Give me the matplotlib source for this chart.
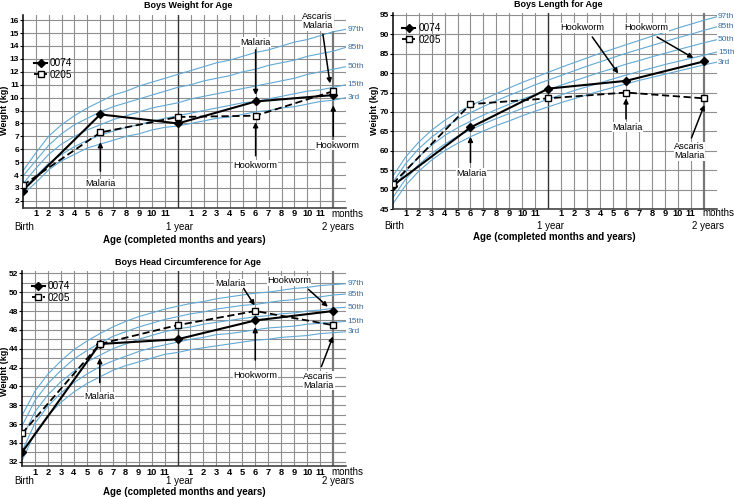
import numpy as np
import matplotlib
matplotlib.use("Agg")
import matplotlib.pyplot as plt

plt.rcParams['font.family'] = ['Liberation Sans', 'DejaVu Sans']

# ages (months) of the visits
visit_months = [0, 6, 12, 18, 24]

# child measurements
weight_0074 = [2.8, 8.7, 8.0, 9.7, 10.2]
weight_0205 = [3.2, 7.3, 8.5, 8.6, 10.5]
length_0074 = [51, 66, 76, 78, 83]
length_0205 = [51.5, 72, 73.5, 75, 73.5]
head_0074 = [33, 44.5, 45, 47, 48]
head_0205 = [35, 44.5, 46.5, 48, 46.5]

# reference curves, months 0..25
curve_months = list(range(26))
pct_names = ['3rd', '15th', '50th', '85th', '97th']

weight_p3 = [2.5, 3.4, 4.4, 5.1, 5.6, 6.1, 6.4, 6.7, 7.0, 7.2, 7.5, 7.7, 7.8, 8.0, 8.2, 8.4, 8.5, 8.7, 8.9, 9.0, 9.2, 9.3, 9.5, 9.7, 9.8, 10.0]
weight_p15 = [2.9, 3.9, 4.9, 5.6, 6.2, 6.7, 7.1, 7.4, 7.7, 7.9, 8.2, 8.4, 8.6, 8.8, 9.0, 9.2, 9.4, 9.6, 9.7, 9.9, 10.1, 10.3, 10.5, 10.6, 10.8, 11.0]
weight_p50 = [3.3, 4.5, 5.6, 6.4, 7.0, 7.5, 7.9, 8.3, 8.6, 8.9, 9.2, 9.4, 9.6, 9.9, 10.1, 10.3, 10.5, 10.7, 10.9, 11.1, 11.3, 11.5, 11.8, 12.0, 12.2, 12.4]
weight_p85 = [3.9, 5.1, 6.3, 7.2, 7.9, 8.4, 8.9, 9.3, 9.6, 9.9, 10.2, 10.5, 10.8, 11.0, 11.3, 11.5, 11.7, 12.0, 12.2, 12.5, 12.7, 12.9, 13.2, 13.4, 13.6, 13.9]
weight_p97 = [4.3, 5.7, 7.0, 7.9, 8.6, 9.2, 9.7, 10.2, 10.5, 10.9, 11.2, 11.5, 11.8, 12.1, 12.4, 12.7, 12.9, 13.2, 13.5, 13.7, 14.0, 14.3, 14.5, 14.8, 15.1, 15.3]

length_p3 = [46.3, 51.1, 54.7, 57.6, 60.0, 61.9, 63.6, 65.1, 66.5, 67.7, 69.0, 70.2, 71.3, 72.4, 73.4, 74.4, 75.4, 76.3, 77.2, 78.1, 78.9, 79.7, 80.5, 81.3, 82.1, 82.8]
length_p15 = [47.9, 52.7, 56.4, 59.3, 61.7, 63.7, 65.4, 66.9, 68.3, 69.6, 70.9, 72.1, 73.3, 74.4, 75.5, 76.5, 77.5, 78.5, 79.5, 80.4, 81.3, 82.2, 83.0, 83.8, 84.6, 85.4]
length_p50 = [49.9, 54.7, 58.4, 61.4, 63.9, 65.9, 67.6, 69.2, 70.6, 72.0, 73.3, 74.5, 75.7, 76.9, 78.0, 79.1, 80.2, 81.2, 82.3, 83.2, 84.2, 85.1, 86.0, 86.9, 87.8, 88.6]
length_p85 = [51.8, 56.7, 60.5, 63.5, 66.0, 68.1, 69.8, 71.4, 72.9, 74.3, 75.6, 77.0, 78.2, 79.4, 80.6, 81.8, 82.9, 84.0, 85.1, 86.1, 87.1, 88.1, 89.1, 90.0, 91.0, 91.9]
length_p97 = [53.4, 58.4, 62.2, 65.3, 67.8, 69.9, 71.6, 73.2, 74.7, 76.2, 77.6, 78.9, 80.2, 81.5, 82.7, 83.9, 85.1, 86.2, 87.3, 88.4, 89.5, 90.5, 91.6, 92.6, 93.6, 94.5]

head_p3 = [32.1, 35.1, 36.9, 38.3, 39.4, 40.3, 41.0, 41.7, 42.2, 42.6, 43.0, 43.4, 43.6, 43.9, 44.1, 44.3, 44.5, 44.7, 44.9, 45.0, 45.2, 45.3, 45.4, 45.6, 45.7, 45.8]
head_p15 = [33.1, 36.1, 37.9, 39.3, 40.4, 41.3, 42.1, 42.7, 43.2, 43.7, 44.1, 44.4, 44.7, 45.0, 45.2, 45.5, 45.6, 45.8, 46.0, 46.2, 46.3, 46.4, 46.6, 46.7, 46.8, 46.9]
head_p50 = [34.5, 37.3, 39.1, 40.5, 41.6, 42.6, 43.3, 44.0, 44.5, 45.0, 45.4, 45.8, 46.1, 46.3, 46.6, 46.8, 47.0, 47.2, 47.4, 47.5, 47.7, 47.8, 48.0, 48.1, 48.3, 48.4]
head_p85 = [35.8, 38.5, 40.3, 41.7, 42.9, 43.8, 44.6, 45.3, 45.8, 46.3, 46.7, 47.1, 47.4, 47.7, 47.9, 48.2, 48.4, 48.6, 48.7, 48.9, 49.1, 49.2, 49.4, 49.5, 49.7, 49.8]
head_p97 = [36.9, 39.5, 41.3, 42.7, 43.9, 44.8, 45.6, 46.3, 46.9, 47.4, 47.8, 48.2, 48.5, 48.8, 49.0, 49.3, 49.5, 49.7, 49.9, 50.0, 50.2, 50.4, 50.5, 50.7, 50.8, 50.9]

CURVE_COL = '#62a9d4'
LABEL_COL = '#3b6ea3'
GRID_COL = '#8f8f8f'
FS = 6.7

fig = plt.figure(figsize=(7.34, 4.97), dpi=100)


def panel(rect, title, ylim, yticks, hlines, curves, s1, s2, notes, leg_anchor,
          pad_month, pad_birth, pad_xlab, pad_title):
    ax = fig.add_axes(rect)
    ax.set_xlim(0, 25)
    ax.set_ylim(*ylim)
    for y in hlines:
        ax.axhline(y, color=GRID_COL, lw=0.8, zorder=1)
    for m in range(1, 24):
        if m == 12:
            continue
        ax.axvline(m, color=GRID_COL, lw=0.8, zorder=1)
    ax.axvline(12, color='#333333', lw=1.0, zorder=1)
    ax.axvline(24, color='#777777', lw=1.6, zorder=1)

    for c, name in zip(curves, pct_names):
        ax.plot(curve_months, c, color=CURVE_COL, lw=0.8, zorder=2)
        ax.annotate(name, xy=(25, c[-1]), xytext=(1, 0), textcoords='offset points',
                    color=LABEL_COL, fontsize=6, ha='left', va='center',
                    annotation_clip=False)

    ax.plot(visit_months, s1, color='black', lw=1.5, marker='D', ms=4.5,
            mfc='black', zorder=4, label='0074')
    ax.plot(visit_months, s2, color='black', lw=1.3, ls=(0, (4, 2)), marker='s',
            ms=4.5, mfc='white', mec='black', zorder=5, label='0205')
    ax.legend(loc='upper left', bbox_to_anchor=leg_anchor, frameon=False,
              fontsize=FS + 0.5, handlelength=1.3, handletextpad=0.3,
              labelspacing=0.15, borderpad=0, borderaxespad=0)

    for text, txy, tail, tip in notes:
        ax.text(txy[0], txy[1], text, fontsize=FS, ha='center', va='center',
                linespacing=1.0, zorder=6,
                bbox=dict(boxstyle='square,pad=0.05', fc='white', ec='none'))
        ax.annotate('', xy=tip, xytext=tail,
                    arrowprops=dict(arrowstyle='-|>', color='black', lw=1.1,
                                    mutation_scale=7, shrinkA=0, shrinkB=0),
                    zorder=6)

    for s in ['top', 'right']:
        ax.spines[s].set_visible(False)
    ax.spines['left'].set_linewidth(1.1)
    ax.spines['bottom'].set_linewidth(1.1)
    ax.spines['bottom'].set_color('#333333')
    ax.set_xticks([])
    ax.set_yticks(yticks)
    ax.set_yticklabels([str(v) for v in yticks], fontsize=6, fontweight='bold')
    ax.tick_params(axis='y', length=2, width=0.8, pad=0.6)

    trans = ax.get_xaxis_transform()
    for m in range(1, 24):
        if m == 12:
            continue
        ax.annotate(str(m if m < 12 else m - 12), xy=(m, 0), xycoords=trans,
                    xytext=(0, -pad_month), textcoords='offset points',
                    fontsize=FS, fontweight='bold', ha='center', va='center')
    ax.annotate('months', xy=(25.1, 0), xycoords=trans, xytext=(0, -pad_month),
                textcoords='offset points', fontsize=FS + 0.3, ha='center', va='center')
    for x, lab in [(0.15, 'Birth'), (12.15, '1 year'), (24.35, '2 years')]:
        ax.annotate(lab, xy=(x, 0), xycoords=trans, xytext=(0, -pad_birth),
                    textcoords='offset points', fontsize=FS + 0.3, ha='center', va='center')
    ax.annotate('Age (completed months and years)', xy=(12.5, 0), xycoords=trans,
                xytext=(0, -pad_xlab), textcoords='offset points', fontsize=FS + 0.3,
                fontweight='bold', ha='center', va='center')
    ax.annotate(title, xy=(12.8, 1), xycoords=('data', 'axes fraction'),
                xytext=(0, pad_title), textcoords='offset points', fontsize=6.5,
                fontweight='bold', ha='center', va='center')
    return ax


def ylabel(x_px, y_px):
    fig.text(x_px / 734, 1 - y_px / 497, 'Weight (kg)', rotation=90, fontsize=6.5,
             fontweight='bold', ha='center', va='center')


# weight
panel([22.7 / 734, 1 - 208 / 497, 323.5 / 734, 193 / 497], 'Boys Weight for Age',
      (1.45, 16.4), list(range(2, 17)), list(range(2, 17)),
      [weight_p3, weight_p15, weight_p50, weight_p85, weight_p97],
      weight_0074, weight_0205,
      [('Malaria', (6, 3.35), (6, 4.3), (6, 6.55)),
       ('Malaria', (18, 14.3), (18, 13.7), (18, 10.2)),
       ('Hookworm', (18, 4.75), (18, 5.5), (18, 8.1)),
       ('Ascaris\nMalaria', (22.8, 15.9), (23.2, 14.9), (23.75, 11.1)),
       ('Hookworm', (24.3, 6.3), (24, 7.0), (24, 9.4))],
      (0.035, 0.775), 4, 14, 23, 7.2)
ylabel(4.5, 110)

# length
panel([392.7 / 734, 1 - 209 / 497, 324 / 734, 195.7 / 497], 'Boys Length for Age',
      (45, 95.4), list(range(45, 96, 5)), list(range(45, 96, 5)),
      [length_p3, length_p15, length_p50, length_p85, length_p97],
      length_0074, length_0205,
      [('Malaria', (6.1, 54.2), (6, 57), (6, 63.6)),
       ('Hookworm', (14.6, 91.7), (15.4, 89.3), (17.4, 79.9)),
       ('Hookworm', (19.6, 91.7), (20.4, 89.3), (23.2, 83.9)),
       ('Malaria', (18.1, 66.0), (18, 68.2), (18, 73.5)),
       ('Ascaris\nMalaria', (22.9, 59.9), (23.05, 63.3), (24.05, 71.8))],
      (0.03, 0.95), 3, 12.5, 20, 6.4)
ylabel(374.5, 110)

# head circumference
panel([22 / 734, 1 - 466 / 497, 324 / 734, 195.3 / 497], 'Boys Head Circumference for Age',
      (31.55, 52.28), list(range(32, 53, 2)), list(range(32, 53)),
      [head_p3, head_p15, head_p50, head_p85, head_p97],
      head_0074, head_0205,
      [('Malaria', (6.0, 38.9), (6, 40.4), (6, 43.0)),
       ('Malaria', (16.05, 50.9), (17.1, 50.4), (17.95, 48.6)),
       ('Hookworm', (20.6, 51.2), (22.1, 50.3), (23.6, 48.45)),
       ('Hookworm', (18, 41.2), (18, 42.8), (18, 46.3)),
       ('Ascaris\nMalaria', (22.9, 40.6), (23.1, 42.1), (24.0, 45.3))],
      (0.03, 0.945), 4.5, 11, 18.5, 6)
ylabel(4.5, 371.7)

fig.savefig('out.png', dpi=100)
